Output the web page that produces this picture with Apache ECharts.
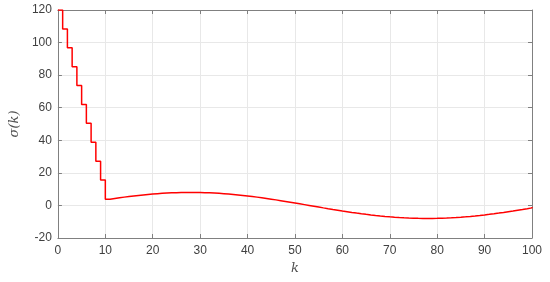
<!DOCTYPE html>
<html><head><meta charset="utf-8">
<script src="https://cdn.jsdelivr.net/npm/echarts@6/dist/echarts.min.js"></script>
<style>html,body{margin:0;padding:0;background:#fff}#c{width:550px;height:282px}</style>
</head><body><div id="c"></div>
<script>
const kValues = [];
for (let i = 0; i <= 100; i++) kValues.push(i);
const sigmaValues = [
  120, 108.4, 96.8, 85.2, 73.6, 62.0, 50.4, 38.8, 27.2, 15.6,
  3.85, 4.29, 4.70, 5.10, 5.48, 5.83, 6.16, 6.47, 6.75, 7.01,
  7.24, 7.44, 7.61, 7.75, 7.86, 7.94, 7.98, 8.00, 7.98, 7.94,
  7.86, 7.75, 7.61, 7.44, 7.24, 7.01, 6.75, 6.47, 6.16, 5.83,
  5.48, 5.10, 4.70, 4.29, 3.85, 3.41, 2.94, 2.47, 1.99, 1.50,
  1.00, 0.50, 0.00, -0.50, -1.00, -1.50, -1.99, -2.47, -2.94, -3.41,
  -3.85, -4.29, -4.70, -5.10, -5.48, -5.83, -6.16, -6.47, -6.75, -7.01,
  -7.24, -7.44, -7.61, -7.75, -7.86, -7.94, -7.98, -8.00, -7.98, -7.94,
  -7.86, -7.75, -7.61, -7.44, -7.24, -7.01, -6.75, -6.47, -6.16, -5.83,
  -5.48, -5.10, -4.70, -4.29, -3.85, -3.41, -2.94, -2.47, -1.99, -1.50,
  -0.90
];
const xTicks = [0, 10, 20, 30, 40, 50, 60, 70, 80, 90, 100];
const yTicks = [-20, 0, 20, 40, 60, 80, 100, 120];

const axisCol = '#808080';
const labelCol = '#404040';
const gridCol = '#e8e8e8';
const data = kValues.map((k, i) => [k, sigmaValues[i]]);

const chart = echarts.init(document.getElementById('c'), null, {renderer: 'canvas'});
chart.setOption({
  animation: false,
  grid: {left: 56, right: 18, top: 10, bottom: 44},
  xAxis: [{
    type: 'value', min: 0, max: 100, interval: 10,
    axisLine: {show: true, onZero: false, lineStyle: {color: axisCol, width: 1}},
    axisTick: {show: true, inside: true, length: 4, lineStyle: {color: axisCol}},
    axisLabel: {color: labelCol, fontSize: 12, fontFamily: 'Liberation Sans, Arial, sans-serif', margin: 7},
    splitLine: {show: true, lineStyle: {color: gridCol, width: 1}},
    name: 'k', nameLocation: 'middle', nameGap: 22,
    nameTextStyle: {fontFamily: 'DejaVu Serif, serif', fontStyle: 'italic', fontSize: 13, color: '#505050'}
  }, {
    type: 'value', position: 'top', min: 0, max: 100, interval: 10,
    axisLine: {show: true, onZero: false, lineStyle: {color: axisCol, width: 1}},
    axisTick: {show: true, inside: true, length: 4, lineStyle: {color: axisCol}},
    axisLabel: {show: false}, splitLine: {show: false}
  }],
  yAxis: [{
    type: 'value', min: -20, max: 120, interval: 20,
    axisLine: {show: true, onZero: false, lineStyle: {color: axisCol, width: 1}},
    axisTick: {show: true, inside: true, length: 4, lineStyle: {color: axisCol}},
    axisLabel: {color: labelCol, fontSize: 12, fontFamily: 'Liberation Sans, Arial, sans-serif', margin: 6},
    splitLine: {show: true, lineStyle: {color: gridCol, width: 1}},
    name: 'σ(k)', nameLocation: 'middle', nameGap: 23, nameRotate: 90,
    nameTextStyle: {fontFamily: 'DejaVu Serif, serif', fontStyle: 'italic', fontSize: 13, color: '#505050'}
  }, {
    type: 'value', position: 'right', min: -20, max: 120, interval: 20,
    axisLine: {show: true, onZero: false, lineStyle: {color: axisCol, width: 1}},
    axisTick: {show: true, inside: true, length: 4, lineStyle: {color: axisCol}},
    axisLabel: {show: false}, splitLine: {show: false}
  }],
  series: [{
    type: 'line', step: 'end', data: data, showSymbol: false, symbol: 'none',
    lineStyle: {color: '#ff0000', width: 1.5}, clip: true
  }]
});
</script></body></html>
